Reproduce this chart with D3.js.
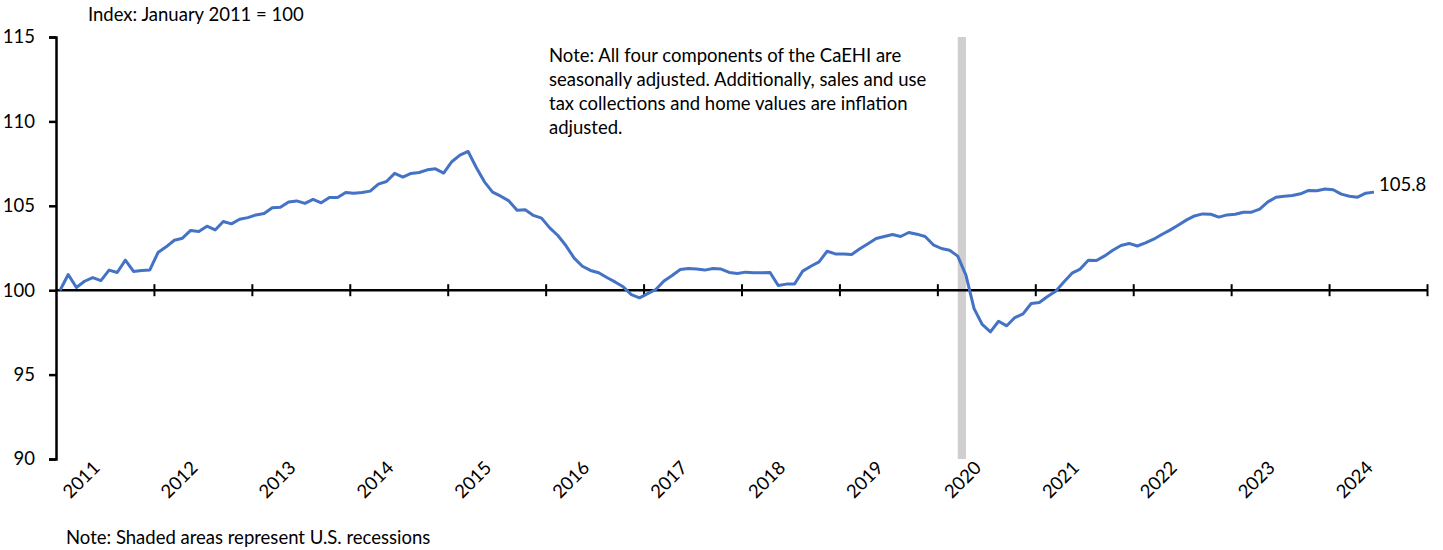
<!DOCTYPE html>
<html>
<head>
<meta charset="utf-8">
<script src="https://cdn.jsdelivr.net/npm/d3@7"></script>
<style>
  body { margin: 0; background: #fff; }
  svg { font-family: Lato, "Open Sans", sans-serif; }
</style>
</head>
<body>
<svg id="chart" width="1443" height="550"></svg>
<script>
// monthly index, Jan 2011 .. Jun 2024
var years = ["2011", "2012", "2013", "2014", "2015", "2016", "2017", "2018", "2019", "2020", "2021", "2022", "2023", "2024"];
var values = [
  100.0, 100.93, 100.16, 100.53, 100.75, 100.57, 101.19, 101.05, 101.78, 101.11, 101.17, 101.2,
  102.23, 102.57, 102.96, 103.08, 103.54, 103.48, 103.79, 103.57, 104.07, 103.93, 104.2, 104.3,
  104.46, 104.54, 104.88, 104.92, 105.23, 105.29, 105.14, 105.38, 105.18, 105.49, 105.49, 105.79,
  105.75, 105.79, 105.87, 106.28, 106.44, 106.92, 106.7, 106.92, 106.97, 107.13, 107.19, 106.94,
  107.61, 108.0, 108.22, 107.27, 106.42, 105.81, 105.57, 105.29, 104.74, 104.76, 104.43, 104.27,
  103.69, 103.24, 102.63, 101.9, 101.42, 101.17, 101.03, 100.75, 100.49, 100.2, 99.74, 99.55,
  99.8, 100.04, 100.55, 100.87, 101.23, 101.29, 101.25, 101.19, 101.29, 101.25, 101.05, 100.99,
  101.07, 101.03, 101.03, 101.05, 100.28, 100.36, 100.37, 101.13, 101.42, 101.68, 102.31, 102.15,
  102.15, 102.12, 102.45, 102.75, 103.06, 103.18, 103.3, 103.18, 103.42, 103.32, 103.18, 102.69,
  102.47, 102.37, 102.02, 100.89, 98.91, 97.97, 97.53, 98.16, 97.89, 98.38, 98.6, 99.21,
  99.27, 99.63, 99.94, 100.49, 101.01, 101.25, 101.78, 101.76, 102.03, 102.37, 102.65, 102.77,
  102.62, 102.8, 103.02, 103.3, 103.56, 103.85, 104.15, 104.4, 104.52, 104.5, 104.33, 104.46,
  104.5, 104.62, 104.62, 104.8, 105.23, 105.51, 105.57, 105.61, 105.71, 105.91, 105.89, 106.0,
  105.95, 105.69, 105.57, 105.51, 105.75, 105.81
];
var yTicks = [90, 95, 100, 105, 110, 115];
var recession = [110, 111]; // Mar 2020 .. Apr 2020 (month index)
var noteLines = [
  "Note: All four components of the CaEHI are",
  "seasonally adjusted. Additionally, sales and use",
  "tax collections and home values are inflation",
  "adjusted."
];

var svg = d3.select("#chart"),
  plotL = 56, plotR = 1427, plotT = 37, plotB = 459,
  fs = 18.5;

var nMonths = years.length * 12;
var x = d3.scaleLinear().domain([0, nMonths]).range([plotL, plotR]);
var y = d3.scaleLinear().domain([90, 115]).range([plotB, plotT]);
var px = i => x(i + 0.5);

// recession shading
svg.append("rect")
  .attr("x", px(recession[0]))
  .attr("y", plotT)
  .attr("width", px(recession[1]) - px(recession[0]))
  .attr("height", plotB - plotT)
  .attr("fill", "#d0cece");

// y axis
var yAxis = svg.append("g")
  .attr("transform", `translate(${plotL},0)`)
  .call(d3.axisLeft(y).tickValues(yTicks).tickSize(7).tickSizeOuter(7).tickPadding(14));
yAxis.selectAll("path, line").attr("stroke", "#000").attr("stroke-width", 2.5);
yAxis.selectAll("text")
  .attr("font-size", fs)
  .attr("font-family", "Lato, sans-serif")
  .attr("fill", "#000");

// x axis at 100
svg.append("line")
  .attr("x1", plotL)
  .attr("x2", plotR)
  .attr("y1", y(100))
  .attr("y2", y(100))
  .attr("stroke", "#000")
  .attr("stroke-width", 2.5);

var xAxis = svg.append("g")
  .attr("transform", `translate(0,${y(100) - 6})`)
  .call(d3.axisBottom(x).tickValues(d3.range(12, nMonths + 1, 12)).tickSize(12).tickFormat(""));
xAxis.select(".domain").remove();
xAxis.selectAll("line").attr("stroke", "#000").attr("stroke-width", 2);

svg.append("g")
  .selectAll("text")
  .data(years)
  .join("text")
    .attr("transform", (d, i) => `translate(${x(i * 12 + 6) - 4},469) rotate(-45)`)
    .attr("text-anchor", "end")
    .attr("font-size", fs)
    .attr("fill", "#000")
    .text(d => d);

// index line
var line = d3.line()
  .x((d, i) => px(i))
  .y(d => y(d));

svg.append("path")
  .attr("fill", "none")
  .attr("stroke", "#4472c4")
  .attr("stroke-width", 3)
  .attr("stroke-linejoin", "round")
  .attr("d", line(values));

var last = values.length - 1;
svg.append("text")
  .attr("x", px(last) + 5)
  .attr("y", y(values[last]) - 1)
  .attr("font-size", fs)
  .attr("fill", "#000")
  .text(values[last].toFixed(1));

// texts
svg.append("text")
  .attr("x", 88)
  .attr("y", 21)
  .attr("font-size", fs)
  .attr("fill", "#000")
  .text("Index: January 2011 = 100");

svg.append("g")
  .selectAll("text")
  .data(noteLines)
  .join("text")
    .attr("x", 549)
    .attr("y", (d, i) => 62 + i * 24)
    .attr("font-size", fs)
    .attr("fill", "#000")
    .text(d => d);

svg.append("text")
  .attr("x", 66)
  .attr("y", 544)
  .attr("font-size", fs)
  .attr("fill", "#000")
  .text("Note: Shaded areas represent U.S. recessions");
</script>
</body>
</html>
